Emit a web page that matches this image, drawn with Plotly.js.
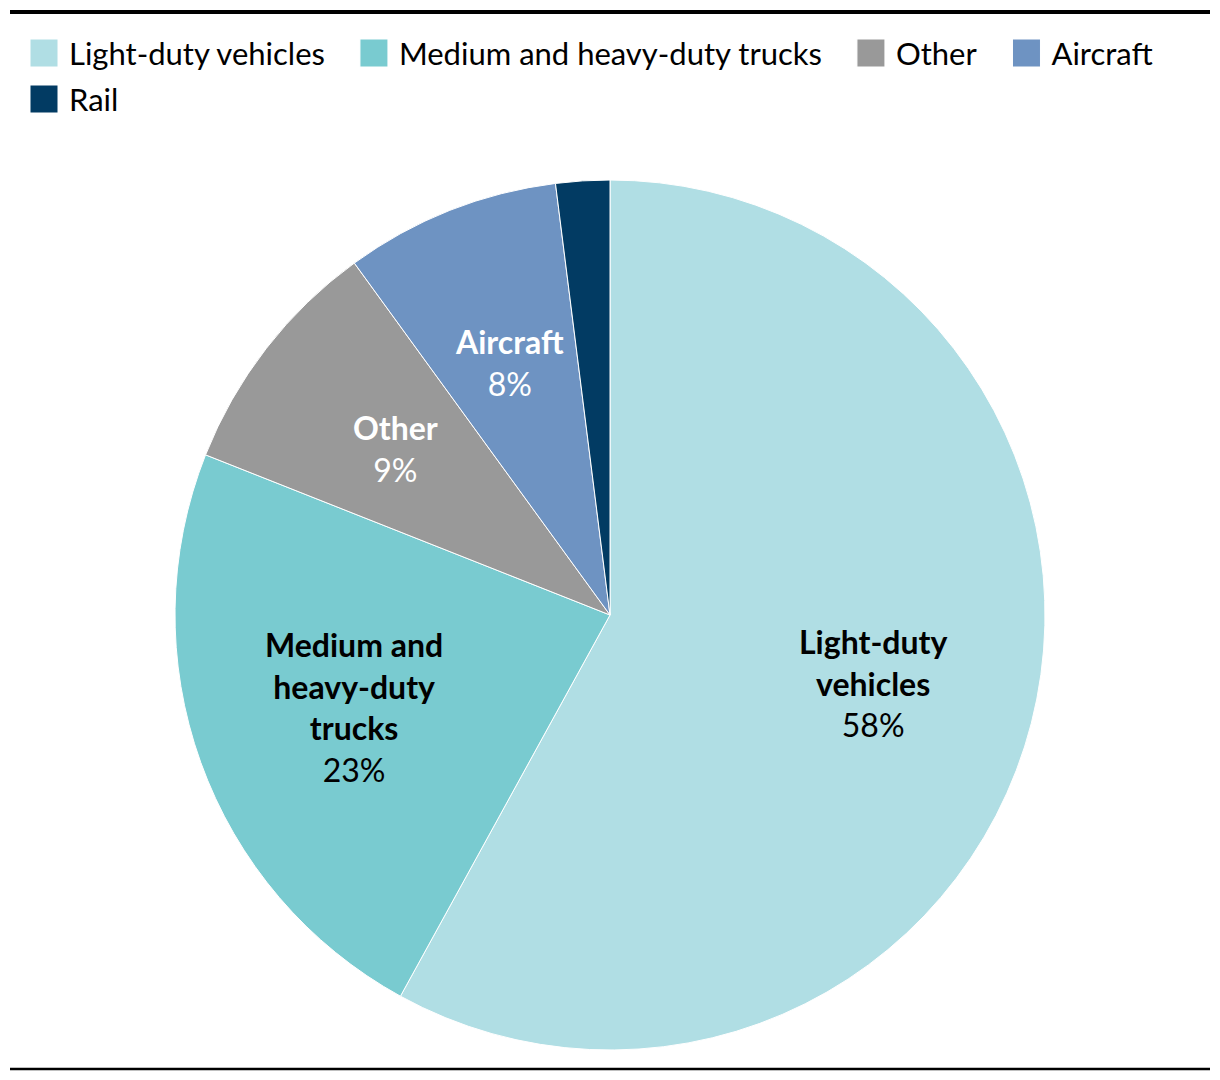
<!DOCTYPE html>
<html>
<head>
<meta charset="utf-8">
<script src="https://cdn.plot.ly/plotly-3.0.1.min.js"></script>
<style>
  html, body { margin: 0; padding: 0; background: #fff; }
  #chart { width: 1220px; height: 1080px; }
</style>
</head>
<body>
<div id="chart"></div>
<script>
// ---- data ----
const categories = ["Light-duty vehicles", "Medium and heavy-duty trucks", "Other", "Aircraft", "Rail"];
const sliceLabels = ["Light-duty<br>vehicles", "Medium and<br>heavy-duty<br>trucks", "Other", "Aircraft", ""];
const shares = [58, 23, 9, 8, 2];
const showLabel = [true, true, true, true, false];

// ---- styles ----
const colors = ["#B0DEE4", "#79CBD0", "#999999", "#6E93C2", "#023B63"];
const textColors = ["#000000", "#000000", "#ffffff", "#ffffff", "#ffffff"];
const FONT = "Lato, 'Source Sans Pro', 'Noto Sans', sans-serif";
const FS = 32;
const LEGEND_FS = 31;

// pie geometry (pixels in a 1220x1080 page)
const W = 1220, H = 1080;
const CX = 610, CY = 615, R = 435;
const LABEL_R = 0.625; // label distance as fraction of radius

const trace = {
  type: "pie",
  labels: categories,
  values: shares,
  textinfo: "none",
  sort: false,
  direction: "clockwise",
  rotation: 0,
  hoverinfo: "label+percent",
  marker: { colors: colors, line: { color: "#ffffff", width: 1 } },
  domain: { x: [(CX - R) / W, (CX + R) / W], y: [1 - (CY + R) / H, 1 - (CY - R) / H] }
};

// slice labels placed at the mid angle of each slice (computed from the data)
const total = shares.reduce((a, b) => a + b, 0);
const annotations = [];
let cum = 0;
shares.forEach((v, i) => {
  const mid = (cum + v / 2) / total * 2 * Math.PI; // clockwise from 12 o'clock
  cum += v;
  if (!showLabel[i]) return;
  const px = CX + LABEL_R * R * Math.sin(mid);
  const py = CY - LABEL_R * R * Math.cos(mid);
  annotations.push({
    xref: "paper", yref: "paper",
    x: px / W, y: 1 - py / H,
    xanchor: "center", yanchor: "middle",
    showarrow: false,
    align: "center",
    text: "<b>" + sliceLabels[i] + "</b><br>" + v + "%",
    font: { family: FONT, size: FS, color: textColors[i] }
  });
});

const layout = {
  width: W,
  height: H,
  margin: { l: 0, r: 0, t: 0, b: 0 },
  paper_bgcolor: "#ffffff",
  font: { family: FONT, size: FS, color: "#000000" },
  showlegend: true,
  legend: {
    orientation: "h",
    x: 0.0, xanchor: "left",
    y: 1 - 28 / H, yanchor: "top",
    bgcolor: "rgba(0,0,0,0)",
    font: { family: FONT, size: LEGEND_FS, color: "#000000" },
    traceorder: "normal",
    itemclick: false,
    itemdoubleclick: false
  },
  annotations: annotations,
  shapes: [
    { type: "line", xref: "paper", yref: "paper", x0: 10 / W, x1: 1210 / W, y0: 1 - 12 / H, y1: 1 - 12 / H, line: { color: "#000", width: 4 } },
    { type: "line", xref: "paper", yref: "paper", x0: 10 / W, x1: 1210 / W, y0: 1 - 1069 / H, y1: 1 - 1069 / H, line: { color: "#000", width: 2.5 } }
  ]
};

function parseT(el) {
  const t = el.getAttribute("transform") || "";
  const m = t.match(/translate\(\s*([-\d.e]+)[ ,]+([-\d.e]+)/);
  return m ? [parseFloat(m[1]), parseFloat(m[2])] : [0, 0];
}

Plotly.newPlot("chart", [trace], layout, { displayModeBar: false, staticPlot: true }).then(gd => {
  // remove clipping so wrapped rows stay visible
  document.querySelectorAll(".legend [clip-path]").forEach(e => e.removeAttribute("clip-path"));
  // bigger square swatches, placed left of the text
  document.querySelectorAll(".legend .legendpoints path").forEach(p => {
    p.setAttribute("d", "M9,14H-19V-14H9Z");
  });
  // lay out legend entries: gap of 35px from text end to next swatch, wrap at page width
  const items = Array.from(document.querySelectorAll(".legend .traces"));
  const rowCenters = [53, 99];
  let textLeft = 69, row = 0;
  items.forEach(it => {
    const txt = it.querySelector(".legendtext");
    const sw = it.querySelector(".legendpoints path");
    const r = txt.getBoundingClientRect();
    const width = r.width;
    if (textLeft + width > 1160 && textLeft > 69) { row += 1; textLeft = 69; }
    const sr = sw.getBoundingClientRect();
    const [tx, ty] = parseT(it);
    const dx = textLeft - r.left;
    const dy = rowCenters[Math.min(row, rowCenters.length - 1)] - (sr.top + sr.height / 2);
    it.setAttribute("transform", "translate(" + (tx + dx) + "," + (ty + dy) + ")");
    textLeft += width + 74;
  });
});
</script>
</body>
</html>
